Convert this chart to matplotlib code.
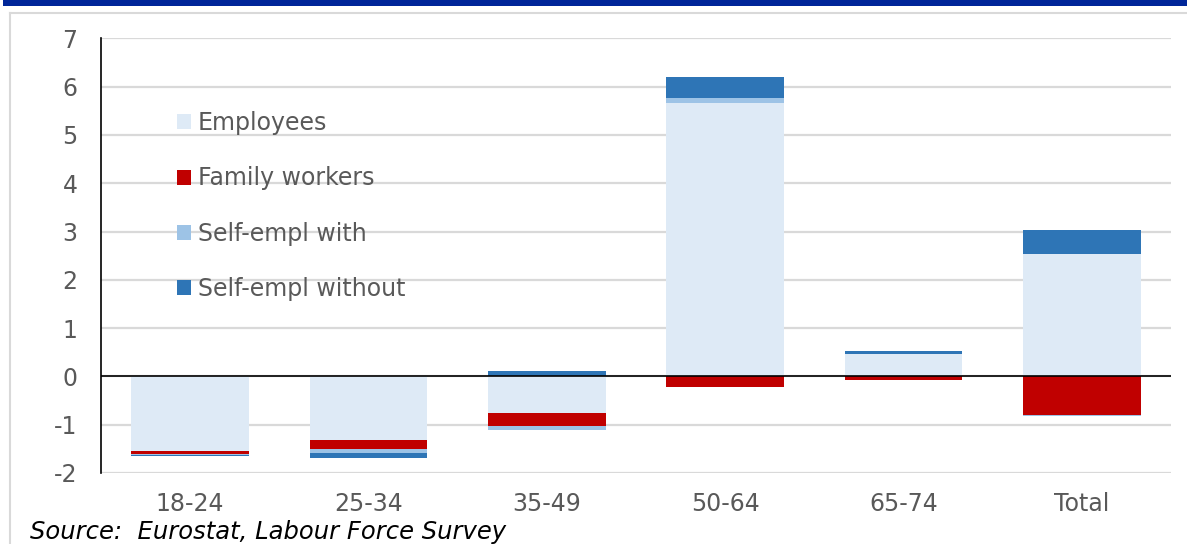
import matplotlib
matplotlib.use('Agg')
import matplotlib.pyplot as plt
from matplotlib.patches import Patch, Rectangle
from matplotlib.lines import Line2D

# data (millions, change)
categories = ['18-24', '25-34', '35-49', '50-64', '65-74', 'Total']
employees = [-1.54, -1.31, -0.75, 5.66, 0.47, 2.54]
family_workers = [-0.06, -0.19, -0.27, -0.21, -0.08, -0.79]
self_empl_with = [-0.03, -0.09, -0.08, 0.11, 0.0, -0.03]
self_empl_without = [-0.01, -0.09, 0.11, 0.43, 0.05, 0.49]

series_names = ['Employees', 'Family workers', 'Self-empl with', 'Self-empl without']
series_values = [employees, family_workers, self_empl_with, self_empl_without]
colors = ['#DEEAF6', '#C00000', '#9DC3E6', '#2E75B6']

text_grey = '#595959'
plt.rcParams['font.family'] = ['DejaVu Sans']
plt.rcParams['axes.unicode_minus'] = False

fig = plt.figure(figsize=(11.87, 5.44), dpi=100)
ax = fig.add_axes([101/1187, 1 - 473/544, 1070/1187, (473 - 38.3)/544])

x = list(range(len(categories)))
pos_bottom = [0.0] * len(categories)
neg_bottom = [0.0] * len(categories)
for name, vals, col in zip(series_names, series_values, colors):
    bottoms = []
    for i, v in enumerate(vals):
        if v >= 0:
            bottoms.append(pos_bottom[i])
            pos_bottom[i] += v
        else:
            bottoms.append(neg_bottom[i])
            neg_bottom[i] += v
    ax.bar(x, vals, bottom=bottoms, width=0.66, color=col, label=name, zorder=3)

ax.set_xlim(-0.5, 5.5)
ax.set_ylim(-2, 7)
ax.set_yticks(range(-2, 8))
ax.set_xticks(x)
ax.set_xticklabels(categories)
ax.yaxis.grid(True, color='#D9D9D9', linewidth=1.6, zorder=0)
ax.set_axisbelow(True)
ax.axhline(0, color='black', linewidth=1.2, zorder=4)
for s in ['top', 'right', 'bottom']:
    ax.spines[s].set_visible(False)
ax.spines['left'].set_color('black')
ax.spines['left'].set_linewidth(1.2)
ax.tick_params(axis='both', length=0, labelsize=17, colors=text_grey)
ax.tick_params(axis='y', pad=17)
ax.tick_params(axis='x', pad=14)

handles = [Patch(facecolor=c, edgecolor='none') for c in colors]
leg = ax.legend(handles, series_names, loc='upper left', bbox_to_anchor=(0.0596, 0.86),
                frameon=False, fontsize=17, labelspacing=1.33, handlelength=0.6,
                handleheight=0.6, handletextpad=0.3, borderpad=0)
for t in leg.get_texts():
    t.set_color(text_grey)

# source note
fig.text(30/1187, 1 - 532/544, 'Source:  Eurostat, Labour Force Survey', fontsize=17.5,
         style='italic', color='black', va='center', ha='left')

# title banner (cut off at top) and chart border
fig.patches.append(Rectangle((3/1187, 1 - 6/544), 1, 6/544, transform=fig.transFigure,
                             facecolor='#002699', edgecolor='none'))
fig.lines.append(Line2D([10/1187, 10/1187], [0, 1 - 13/544], transform=fig.transFigure,
                        color='#D9D9D9', linewidth=1.5))
fig.lines.append(Line2D([10/1187, 1], [1 - 13/544, 1 - 13/544], transform=fig.transFigure,
                        color='#D9D9D9', linewidth=1.5))

fig.savefig('out.png', dpi=100)
